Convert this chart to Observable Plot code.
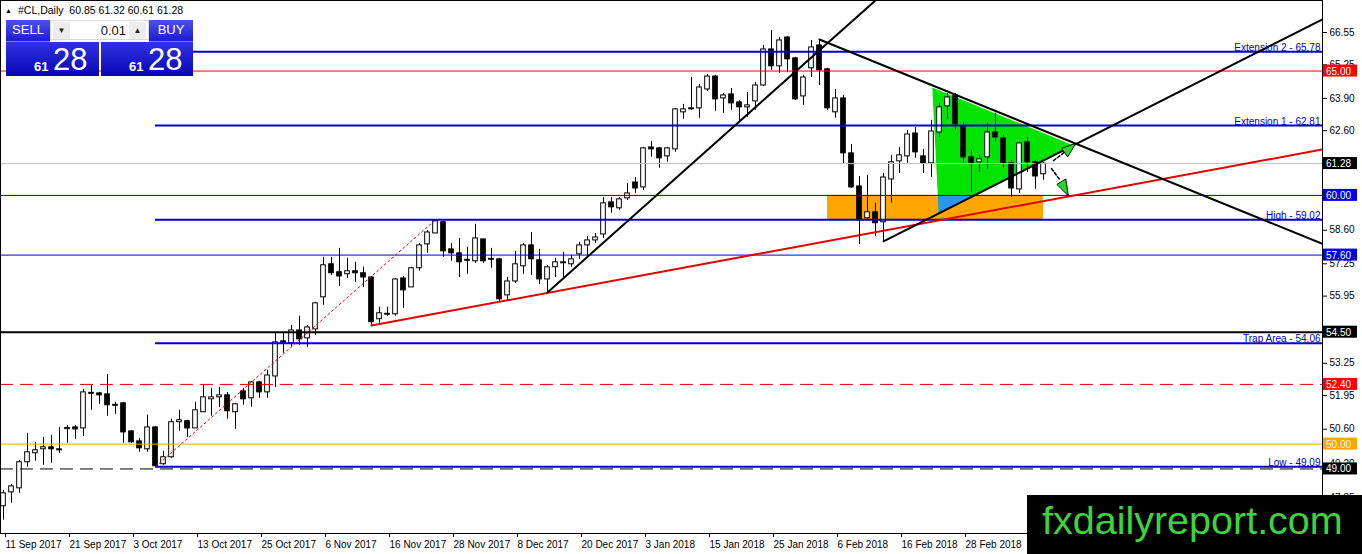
<!DOCTYPE html>
<html>
<head>
<meta charset="utf-8">
<script src="https://cdn.jsdelivr.net/npm/d3@7"></script>
<script src="https://cdn.jsdelivr.net/npm/@observablehq/plot@0.6"></script>
<style>
body { margin: 0; background: #fff; }
#wrap { position: relative; width: 1362px; height: 554px; overflow: hidden; font-family: "Liberation Sans", Arial, sans-serif; }
.btn { position: absolute; color: #fff; font-size: 13px; text-align: center; line-height: 20px;
       background: linear-gradient(#5050ec, #1c1cd2); border-bottom: 1px solid #7a7af2; box-sizing: border-box; }
.panel { position: absolute; background: linear-gradient(#3232e2, #0606b4); color: #fff; }
.panel .small { position: absolute; font-size: 13px; font-weight: bold; top: 17px; }
.panel .big { position: absolute; font-size: 31px; top: 0px; }
#spin { position: absolute; left: 50px; top: 20px; width: 99px; height: 20px; background: #fff; border: 1px solid #d8d8d8; box-sizing: border-box; }
#spin .arr { position: absolute; top: 1px; width: 17px; height: 17px; background: #ececec; font-size: 8px; text-align: center; line-height: 17px; color: #222; }
#spin .val { position: absolute; right: 22px; top: 1px; font-size: 13px; line-height: 17px; color: #111; }
</style>
</head>
<body>
<div id="wrap">
  <div id="chart"></div>
  <div class="btn" style="left:6px;top:20px;width:44px;height:22px">SELL</div>
  <div id="spin"><div class="arr" style="left:2px">&#9660;</div><div class="val">0.01</div><div class="arr" style="right:2px">&#9650;</div></div>
  <div class="btn" style="left:149px;top:20px;width:44px;height:22px">BUY</div>
  <div class="panel" style="left:6px;top:42px;width:93px;height:34px"><span class="small" style="left:28px" id="s1"></span><span class="big" style="left:47px" id="b1"></span></div>
  <div class="panel" style="left:101px;top:42px;width:92px;height:34px"><span class="small" style="left:28px" id="s2"></span><span class="big" style="left:47px" id="b2"></span></div>
</div>
<script>
// daily bars #CL, 11 Sep 2017 .. 14 Mar 2018
const open  = [47.50,48.06,48.22,49.27,49.63,49.79,49.87,49.79,50.60,50.67,50.63,52.02,52.04,52.00,51.54,51.64,50.51,50.11,49.79,50.67,
               49.19,49.47,50.88,50.92,50.63,51.28,51.80,51.88,51.96,51.28,52.12,51.84,52.48,52.08,52.72,54.13,54.05,54.57,54.25,54.61,
               55.90,57.23,56.91,56.83,56.95,56.87,56.70,55.02,55.20,55.22,56.66,56.30,57.07,58.03,58.47,58.92,57.83,57.67,57.37,57.35,
               58.23,57.45,57.43,55.98,56.54,57.15,57.99,57.39,56.62,57.11,57.31,57.23,57.63,57.99,58.19,58.43,59.72,59.48,59.88,60.52,
               60.32,61.93,61.89,61.57,61.85,63.34,63.50,63.50,64.26,64.78,63.90,64.06,63.74,63.54,63.78,64.42,65.87,65.19,66.35,65.51,
               63.98,65.11,66.03,65.07,63.34,63.90,61.69,60.36,59.08,59.32,58.92,60.64,61.37,61.57,62.49,61.57,61.29,62.53,63.58,64.02,
               62.77,61.53,61.33,61.53,62.53,62.29,61.29,60.24,62.13,61.33,60.85];
const high  = [48.14,48.38,49.35,50.43,50.07,50.27,50.35,50.67,50.75,50.75,52.20,52.36,52.08,52.80,51.68,51.68,50.55,50.23,51.16,50.71,
               49.71,51.00,51.36,50.96,51.68,52.36,52.24,52.28,52.08,51.64,52.24,52.52,52.52,52.97,54.45,54.45,54.77,55.14,54.77,55.70,
               57.51,57.51,57.87,57.47,57.31,57.11,56.74,55.50,55.50,56.66,56.74,57.11,58.07,58.59,59.02,59.00,58.07,58.27,57.91,58.84,
               58.23,57.87,57.47,56.70,57.75,58.07,58.51,57.83,57.19,57.47,57.71,57.59,58.11,58.35,58.47,59.92,59.92,59.92,60.48,60.72,
               61.93,62.17,61.93,61.93,63.50,63.66,64.74,64.46,64.87,64.83,64.10,64.30,63.80,64.14,64.54,66.03,66.63,66.35,66.39,65.55,
               64.83,66.23,66.27,65.11,64.26,64.02,62.05,60.76,60.80,59.68,60.88,61.61,61.93,62.61,62.73,61.85,63.02,63.70,64.10,64.10,
               62.94,61.81,61.61,62.90,63.30,62.41,61.41,62.13,62.33,61.41,61.32];
const low   = [46.94,47.62,48.02,49.07,49.31,49.15,49.23,49.63,50.03,50.19,50.31,51.36,51.60,51.12,51.20,50.03,50.03,49.67,49.67,49.09,
               49.15,49.43,50.51,50.27,50.63,51.28,51.12,51.48,51.00,50.59,51.56,51.48,51.84,51.84,52.28,53.65,53.89,53.97,53.89,54.37,
               55.58,56.78,56.34,56.66,56.50,56.30,54.77,54.86,55.14,55.14,55.46,56.30,56.95,57.67,58.47,57.51,57.35,56.70,56.83,57.27,
               57.27,57.07,55.74,55.78,56.46,56.83,56.78,56.42,56.10,56.70,56.70,57.11,57.43,57.51,58.07,58.27,59.28,59.40,59.80,60.08,
               60.20,61.53,61.09,61.33,61.73,63.06,63.42,63.10,64.18,63.38,63.30,63.42,62.90,63.14,63.42,64.38,65.03,64.91,64.95,63.82,
               63.62,64.74,64.42,63.42,63.10,61.25,60.28,58.03,59.00,58.35,58.15,59.68,60.88,61.29,61.49,60.88,60.72,62.33,63.06,62.61,
               61.29,60.12,60.92,61.05,62.13,61.09,59.92,60.08,60.92,60.24,60.61];
const close = [48.02,48.30,49.27,49.67,49.75,49.87,49.79,49.75,50.65,50.59,52.08,52.06,51.96,51.56,51.58,50.47,50.07,49.83,50.67,49.11,
               49.47,50.88,50.96,50.63,51.36,51.88,51.88,51.96,51.32,51.60,51.80,52.48,52.08,52.76,54.09,54.05,54.57,54.21,54.69,55.66,
               57.19,56.87,56.74,56.95,56.87,56.70,54.90,55.26,55.24,56.62,56.18,57.07,57.99,58.51,58.96,57.75,57.67,57.31,57.41,58.27,
               57.35,57.41,55.82,56.54,57.23,57.99,57.43,56.62,57.11,57.31,57.27,57.43,57.99,58.19,58.31,59.68,59.52,59.84,60.08,60.28,
               61.89,61.85,61.49,61.89,63.46,63.46,63.46,64.34,64.78,63.86,64.02,63.70,63.54,63.62,64.42,65.87,65.19,66.23,65.47,63.86,
               64.74,65.95,65.03,63.50,63.90,61.69,60.32,59.00,59.32,58.88,60.72,61.33,61.61,62.45,61.73,61.29,62.57,63.54,63.94,62.86,
               61.53,61.29,61.45,62.53,62.33,61.29,60.28,62.09,61.33,60.76,61.28];

const dateLabels = ["11 Sep 2017","21 Sep 2017","3 Oct 2017","13 Oct 2017","25 Oct 2017","6 Nov 2017","16 Nov 2017","28 Nov 2017",
                    "8 Dec 2017","20 Dec 2017","3 Jan 2018","15 Jan 2018","25 Jan 2018","6 Feb 2018","16 Feb 2018","28 Feb 2018"];
const dateTicks = dateLabels.map((d, k) => k * 8);
// price scale ticks that are not covered by a level label
const yTicks = [66.55,65.25,63.90,62.60,58.60,57.25,55.95,53.25,51.95,50.60,49.20,47.85];

// horizontal levels
const levelPrices = [65.00, 61.28, 60.00, 57.60, 54.50, 52.40, 50.00, 49.00];
// fibonacci set, drawn from the Low bar to the right
const fibPrices = [65.78, 62.81, 59.02, 54.06, 49.09];
const fibNames = ["Extension 2", "Extension 1", "High", "Trap Area", "Low"];
const fibStartBar = 19;

// drawing objects as [bar, price] points
const fibBase   = [[19, 49.09], [54, 59.02]];
const redTrend  = [[46, 54.77], [164.9, 61.85]];
const blackUp   = [[68, 56.10], [109, 67.84]];
const triTop    = [[102, 66.27], [164.9, 58.05]];
const triBottom = [[110, 58.15], [164.9, 67.08]];
const triangle  = [[116.1, 64.34], [133.75, 62.01], [116.9, 59.28]];
const overlap   = [[116.8, 60.00], [121.35, 60.00], [116.9, 59.28]];
const zoneBars = [103, 130];
const zonePrices = [59.02, 60.00];
const arrowShafts = [[[131.25, 61.40], [132.6, 61.73]], [[131.0, 61.08], [132.1, 60.60]]];
const arrowHeads  = [[[133.99, 62.09], [132.25, 61.89], [133.0, 61.56]], [[133.1, 60.00], [132.79, 60.66], [131.71, 60.45]]];

const bars = open.map((o, i) => ({i, o, h: high[i], l: low[i], c: close[i]}));
const pts = (arr, k = 0) => arr.map(([b, p]) => ({b, p, k}));
const xDomain = [-0.375, 164.875];
const yDomain = [46.405, 67.837];

const blue = "#0000cc";
const levelStyle = {
  65.00: {stroke: "#ff0000", box: "#ff0000"},
  61.28: {stroke: "#c0c0c0", box: "#000000"},
  60.00: {stroke: blue, box: "#0000ee"},
  57.60: {stroke: blue, box: "#0000ee"},
  54.50: {stroke: "#000000", box: "#000000", strokeWidth: 2},
  52.40: {stroke: "#e00000", box: "#ff0000", dash: "13,7"},
  50.00: {stroke: "#f0a800", box: "#ffa500"},
  49.00: {stroke: "#000000", box: "#000000", dash: "13,7"}
};

function draw() {
  const plot = Plot.plot({
    width: 1362, height: 554,
    marginLeft: 0, marginRight: 40, marginTop: 0, marginBottom: 21,
    x: {domain: xDomain},
    y: {domain: yDomain},
    style: {fontFamily: "Liberation Sans, Arial, sans-serif", fontSize: "10px", background: "white", color: "black"},
    marks: [
      Plot.rect([0], {x1: zoneBars[0], x2: zoneBars[1], y1: zonePrices[0], y2: zonePrices[1], fill: "#ffa500"}),
      Plot.line(pts(triangle), {x: "b", y: "p", fill: "#00e400", stroke: "none", curve: "linear-closed"}),
      Plot.line(pts(overlap), {x: "b", y: "p", fill: "#2a96f0", stroke: "none", curve: "linear-closed"}),
      // candles
      Plot.ruleX(bars, {x: "i", y1: "l", y2: "h", stroke: "black", strokeWidth: 1}),
      Plot.rect(bars, {x1: d => d.i - 0.29, x2: d => d.i + 0.29, y1: "o", y2: "c",
                       fill: d => d.c >= d.o ? "white" : "black", stroke: "black", strokeWidth: 1}),
      // horizontal levels
      ...levelPrices.map(p => Plot.ruleY([p], {
        stroke: levelStyle[p].stroke, strokeWidth: levelStyle[p].strokeWidth || 1,
        strokeDasharray: levelStyle[p].dash
      })),
      Plot.ruleY(fibPrices, {x1: fibStartBar, x2: xDomain[1], stroke: blue, strokeWidth: 2}),
      Plot.text(fibPrices, {x: xDomain[1], y: d => d, text: (d, k) => `${fibNames[k]} - ${d.toFixed(2)}`,
                            textAnchor: "end", lineAnchor: "bottom", dx: -2, dy: -1, fill: blue, fontSize: 10}),
      // trend lines
      Plot.line(pts(fibBase), {x: "b", y: "p", stroke: "#e00000", strokeWidth: 1, strokeDasharray: "2,3"}),
      Plot.line(pts(redTrend), {x: "b", y: "p", stroke: "#e00000", strokeWidth: 2, clip: true}),
      Plot.line(pts(blackUp), {x: "b", y: "p", stroke: "black", strokeWidth: 2, clip: true}),
      Plot.line(pts(triTop), {x: "b", y: "p", stroke: "black", strokeWidth: 2, clip: true}),
      Plot.line(pts(triBottom), {x: "b", y: "p", stroke: "black", strokeWidth: 2, clip: true}),
      // arrows
      Plot.line(arrowShafts.flatMap((a, k) => pts(a, k)), {x: "b", y: "p", z: "k", stroke: "black", strokeWidth: 1.5, strokeDasharray: "3,2"}),
      Plot.line(arrowHeads.flatMap((a, k) => pts(a, k)), {x: "b", y: "p", z: "k", fill: "#22dd22", stroke: "black", strokeWidth: 1, curve: "linear-closed"}),
      Plot.frame({stroke: "black"}),
      Plot.axisY({anchor: "right", ticks: yTicks, tickSize: 4, tickPadding: 3, tickFormat: d => d.toFixed(2), fontSize: 10}),
      Plot.axisX({anchor: "bottom", ticks: dateTicks, tickSize: 4, tickPadding: 3, textAnchor: "start", dx: 2,
                  tickFormat: d => dateLabels[dateTicks.indexOf(d)], fontSize: 10})
    ]
  });
  document.querySelector("#chart").append(plot);

  const svg = d3.select(plot);
  const y = plot.scale("y");
  // price labels on the axis
  const g = svg.append("g").attr("font-size", 10).attr("text-anchor", "start");
  levelPrices.forEach(p => {
    const yy = y.apply(p);
    g.append("rect").attr("x", 1323).attr("y", yy - 6).attr("width", 34).attr("height", 12).attr("fill", levelStyle[p].box);
    g.append("text").attr("x", 1326).attr("y", yy + 4).attr("fill", "white").text(p.toFixed(2));
  });
  // title
  const last = bars[bars.length - 1];
  const t = svg.append("g").attr("text-anchor", "start");
  t.append("text").attr("x", 5).attr("y", 13).attr("font-size", 7).text("\u25B2");
  t.append("text").attr("x", 18).attr("y", 14).attr("font-size", 10.5)
     .text(`#CL,Daily  ${last.o.toFixed(2)} ${last.h.toFixed(2)} ${last.l.toFixed(2)} ${last.c.toFixed(2)}`);
  // watermark
  t.append("rect").attr("x", 1027).attr("y", 495).attr("width", 335).attr("height", 59).attr("fill", "black");
  t.append("text").attr("x", 1042).attr("y", 534).attr("font-size", 39.5).attr("fill", "#3cd43c").text("fxdailyreport.com");

  const [small, big] = last.c.toFixed(2).split(".");
  document.querySelector("#s1").textContent = small;
  document.querySelector("#s2").textContent = small;
  document.querySelector("#b1").textContent = big;
  document.querySelector("#b2").textContent = big;
}
draw();
</script>
</body>
</html>
